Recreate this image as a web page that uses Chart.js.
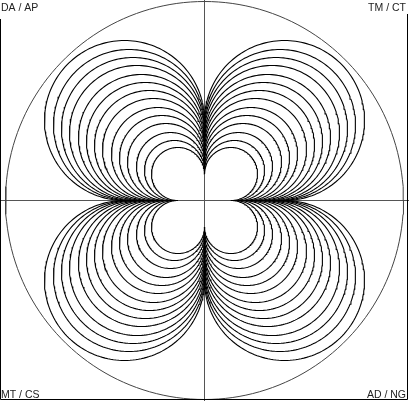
<!DOCTYPE html>
<html>
<head>
<meta charset="utf-8">
<script src="https://cdn.jsdelivr.net/npm/chart.js@4.4.1/dist/chart.umd.min.js"></script>
<style>
  html, body { margin: 0; padding: 0; background: #fff; }
  canvas { display: block; }
</style>
</head>
<body>
<canvas id="lobes" width="409" height="401"></canvas>
<script>
'use strict';

// nested lobe circles, outer to inner (1 unit = 1 px), each tangent to both axes
const lobeRadii = [80, 75.5, 71.5, 67.5, 63, 59, 55, 51, 46.5, 42.5, 38.5, 34, 30, 26.5];
// the bounding circle
const boundRadius = 199;
// quadrant signs [x, y]: top-left, top-right, bottom-left, bottom-right
const quadrantSigns = [[-1, 1], [1, 1], [-1, -1], [1, -1]];
const cornerLabels = ['DA / AP', 'TM / CT', 'MT / CS', 'AD / NG'];

// points of an arc, angles in degrees
function arcPoints(cx, cy, r, from, to) {
  const pts = [];
  const steps = Math.max(24, Math.round(Math.abs(to - from) / 2));
  for (let i = 0; i <= steps; i++) {
    const a = (from + (to - from) * i / steps) * Math.PI / 180;
    pts.push({ x: cx + r * Math.cos(a), y: cy + r * Math.sin(a) });
  }
  return pts;
}

const datasets = [];
quadrantSigns.forEach(([sx, sy]) => {
  // skip the quarter of each circle that faces the origin
  const facing = Math.atan2(-sy, -sx) * 180 / Math.PI;
  lobeRadii.forEach(r => {
    datasets.push({
      data: arcPoints(sx * r, sy * r, r, facing + 45, facing + 315),
      borderColor: '#000',
      borderWidth: 1.1
    });
  });
});
datasets.push({
  data: arcPoints(0, 0, boundRadius, 0, 360),
  borderColor: '#444',
  borderWidth: 1
});

const framePlugin = {
  id: 'frame',
  afterDraw(chart) {
    const ctx = chart.ctx;
    ctx.save();
    ctx.strokeStyle = '#000';
    ctx.lineWidth = 1;
    ctx.beginPath();
    ctx.moveTo(0.5, 0);
    ctx.lineTo(0.5, 399.5);
    ctx.lineTo(407.5, 399.5);
    ctx.lineTo(407.5, 0);
    ctx.stroke();

    ctx.font = "10.5px 'Liberation Sans', Arial, sans-serif";
    ctx.fillStyle = '#222';
    const spots = [
      { x: 1, y: 11, align: 'left', box: [0, 0, 40, 19] },
      { x: 406, y: 11, align: 'right', box: [364, 0, 45, 14] },
      { x: 1, y: 398, align: 'left' },
      { x: 406, y: 398, align: 'right' }
    ];
    cornerLabels.forEach((txt, i) => {
      const s = spots[i];
      if (s.box) {
        ctx.fillStyle = '#fff';
        ctx.fillRect(...s.box);
        ctx.fillStyle = '#222';
      }
      ctx.textAlign = s.align;
      ctx.textBaseline = 'alphabetic';
      ctx.fillText(txt, s.x, s.y);
    });
    ctx.restore();
  }
};

const zeroOnly = axis => { axis.ticks = [{ value: 0 }]; };

new Chart(document.getElementById('lobes').getContext('2d'), {
  type: 'scatter',
  data: { datasets },
  options: {
    responsive: false,
    animation: false,
    events: [],
    layout: { padding: 0, autoPadding: false },
    plugins: { legend: { display: false }, tooltip: { enabled: false } },
    elements: { point: { radius: 0 }, line: { tension: 0 } },
    datasets: { scatter: { showLine: true } },
    scales: {
      x: {
        min: -204.5, max: 204.5,
        afterBuildTicks: zeroOnly,
        ticks: { display: false },
        border: { display: false },
        grid: { drawTicks: false, color: '#555', lineWidth: 1 }
      },
      y: {
        min: -200.5, max: 200.5,
        afterBuildTicks: zeroOnly,
        ticks: { display: false },
        border: { display: false },
        grid: { drawTicks: false, color: '#555', lineWidth: 1 }
      }
    }
  },
  plugins: [framePlugin]
});
</script>
</body>
</html>
